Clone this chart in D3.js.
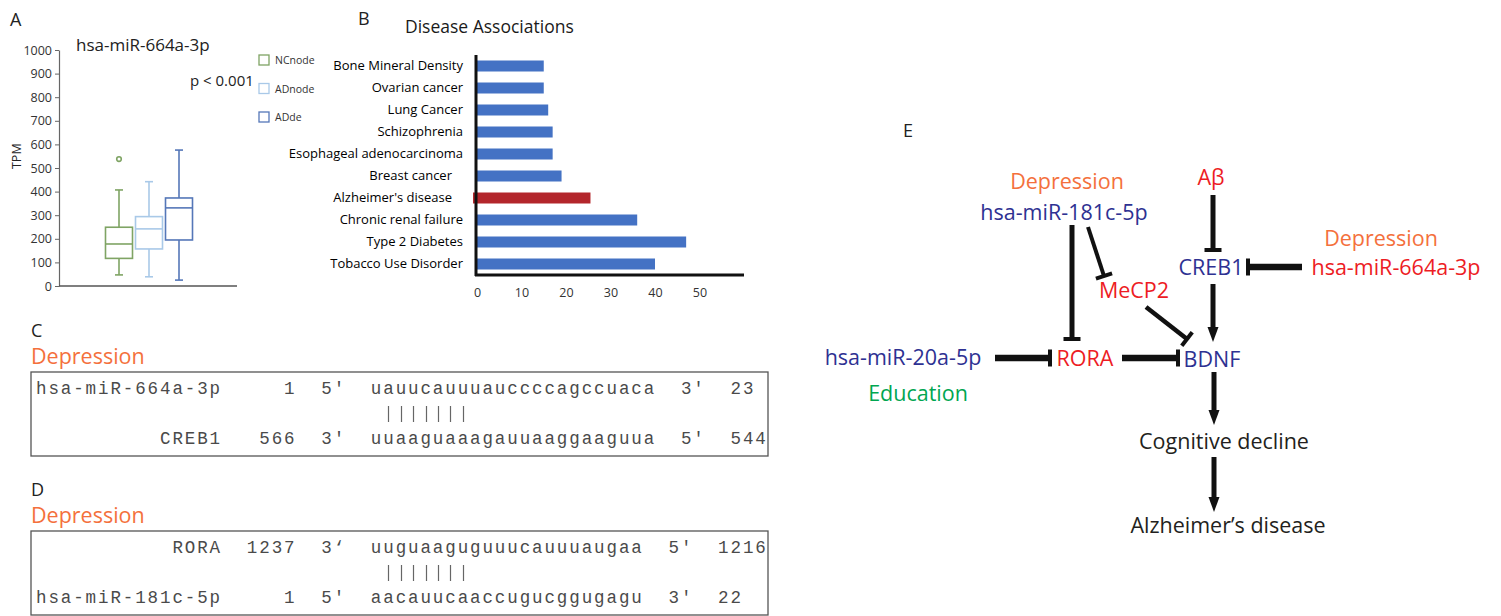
<!DOCTYPE html>
<html>
<head>
<meta charset="utf-8">
<script src="https://cdn.jsdelivr.net/npm/d3@7"></script>
<style>
  body { margin: 0; background: #fff; }
  svg { display: block; font-family: "Open Sans", sans-serif; }
</style>
</head>
<body>
<div id="fig"></div>
<script>
// ---------- panel A: boxplot ----------
const groups = ["NCnode", "ADnode", "ADde"];
const boxStats = [
    { min: 47, q1: 117, median: 178, q3: 249, max: 407, outliers: [538] },
    { min: 39, q1: 157, median: 242, q3: 294, max: 442, outliers: [] },
    { min: 25, q1: 195, median: 331, q3: 373, max: 576, outliers: [] }
];
const tpmTicks = [0, 100, 200, 300, 400, 500, 600, 700, 800, 900, 1000];

// ---------- panel B: disease associations ----------
const diseases = [
    "Bone Mineral Density", "Ovarian cancer", "Lung Cancer", "Schizophrenia",
    "Esophageal adenocarcinoma", "Breast cancer", "Alzheimer's disease",
    "Chronic renal failure", "Type 2 Diabetes", "Tobacco Use Disorder"
];
const associations = [15, 15, 16, 17, 17, 19, 25.5, 36, 47, 40];
const countTicks = [0, 10, 20, 30, 40, 50];

// ---------- panels C, D: alignments ----------
const alignC = [
    ["hsa-miR-664a-3p", "1", "5'", "uauucauuuauccccagccuaca", "3'", "23"],
    ["CREB1", "566", "3'", "uuaaguaaagauuaaggaaguua", "5\u2032", "544"]
];
const alignD = [
    ["RORA", "1237", "3\u2018", "uuguaaguguuucauuuaugaa", "5'", "1216"],
    ["hsa-miR-181c-5p", "1", "5'", "aacauucaaccugucggugagu", "3\u2032", "22"]
];
// seed match: sequence positions 2..8
const seedPositions = [2, 3, 4, 5, 6, 7, 8];

// ---------- panel E: pathway ----------
const nodes = [
    { id: "dep1", label: "Depression" },
    { id: "mir181", label: "hsa-miR-181c-5p" },
    { id: "abeta", label: "A\u03b2" },
    { id: "creb1", label: "CREB1" },
    { id: "dep2", label: "Depression" },
    { id: "mir664", label: "hsa-miR-664a-3p" },
    { id: "mecp2", label: "MeCP2" },
    { id: "mir20", label: "hsa-miR-20a-5p" },
    { id: "rora", label: "RORA" },
    { id: "bdnf", label: "BDNF" },
    { id: "edu", label: "Education" },
    { id: "cog", label: "Cognitive decline" },
    { id: "ad", label: "Alzheimer\u2019s disease" }
];
const edges = [
    ["abeta", "creb1", "inhibit"],
    ["mir664", "creb1", "inhibit"],
    ["creb1", "bdnf", "activate"],
    ["mir181", "rora", "inhibit"],
    ["mir181", "mecp2", "inhibit"],
    ["mecp2", "bdnf", "inhibit"],
    ["mir20", "rora", "inhibit"],
    ["rora", "bdnf", "inhibit"],
    ["bdnf", "cog", "activate"],
    ["cog", "ad", "activate"]
];

// layout of the pathway (positions, not data)
const nodePos = {
    dep1: [1067, 181], mir181: [1064, 212], abeta: [1211, 177], creb1: [1211, 267],
    dep2: [1381, 238], mir664: [1396, 267], mecp2: [1134, 290], mir20: [903, 357],
    rora: [1085, 358], bdnf: [1212, 359], edu: [918, 393], cog: [1224, 441], ad: [1228, 525]
};
const nodeColor = {
    dep1: "#f4703c", dep2: "#f4703c", mir181: "#2e3192", abeta: "#ed1c24",
    creb1: "#2e3192", mir664: "#ed1c24", mecp2: "#ed1c24", mir20: "#2e3192",
    rora: "#ed1c24", bdnf: "#2e3192", edu: "#00a651", cog: "#231f20", ad: "#231f20"
};
const edgeGeom = {
    "abeta-creb1": [[1213, 195], [1213, 250], 5],
    "mir664-creb1": [[1302, 267], [1248, 267], 6.7],
    "creb1-bdnf": [[1213, 284], [1213, 342], 5],
    "mir181-rora": [[1072, 225], [1072, 339], 5],
    "mir181-mecp2": [[1088, 227], [1104, 276], 4],
    "mecp2-bdnf": [[1146, 307], [1187, 339], 4.5],
    "mir20-rora": [[995, 358], [1050, 358], 6.7],
    "rora-bdnf": [[1122, 358], [1178, 358], 6.7],
    "bdnf-cog": [[1214, 372], [1214, 425], 5],
    "cog-ad": [[1214, 457], [1214, 512], 5]
};

const W = 1501, H = 616;
const svg = d3.select("#fig").append("svg")
    .attr("width", W).attr("height", H)
    .attr("viewBox", `0 0 ${W} ${H}`);
svg.append("rect").attr("width", W).attr("height", H).attr("fill", "#fff");

const panelLabel = (x, y, t) => svg.append("text")
    .attr("x", x).attr("y", y).attr("font-size", 18).attr("fill", "#222").text(t);

// ===== A =====
panelLabel(10, 26, "A");
const yA = d3.scaleLinear().domain([0, 1000]).range([286, 50]);
const xA = d3.scaleBand().domain(groups).range([104, 194]).paddingInner(0.1).paddingOuter(0.05);
const boxColor = d3.scaleOrdinal().domain(groups).range(["#7fa464", "#a9c9e8", "#5577b8"]);

const gA = svg.append("g");
gA.append("g")
    .attr("transform", "translate(59,0)")
    .call(d3.axisLeft(yA).tickValues(tpmTicks).tickFormat(d3.format("d")).tickSize(4).tickSizeOuter(0).tickPadding(3))
    .call(g => {
        g.select(".domain").attr("stroke", "#666").attr("stroke-width", 1.2);
        g.selectAll(".tick line").attr("stroke", "#666");
        g.selectAll("text").attr("font-family", "Open Sans").attr("font-size", 12.5).attr("fill", "#333");
    });
gA.append("line")
    .attr("x1", 59).attr("x2", 237).attr("y1", yA(0)).attr("y2", yA(0))
    .attr("stroke", "#555").attr("stroke-width", 1.6);

gA.append("text")
    .attr("transform", `translate(21,${yA(550)}) rotate(-90)`)
    .attr("text-anchor", "middle").attr("font-size", 12.5).attr("fill", "#222")
    .text("TPM");
gA.append("text").attr("x", 76).attr("y", 51).attr("font-size", 17).attr("fill", "#222").text("hsa-miR-664a-3p");
gA.append("text").attr("x", 190).attr("y", 86).attr("font-size", 15).attr("fill", "#222").text("p < 0.001");

const boxes = gA.selectAll(".box").data(boxStats).join("g")
    .attr("class", "box")
    .attr("stroke", (d, i) => boxColor(groups[i]))
    .attr("fill", "none")
    .attr("stroke-width", 1.6);

boxes.each(function (d, i) {
    const g = d3.select(this);
    const x0 = xA(groups[i]);
    const w = xA.bandwidth();
    const cx = x0 + w / 2;
    g.append("line").attr("x1", cx).attr("x2", cx).attr("y1", yA(d.max)).attr("y2", yA(d.q3));
    g.append("line").attr("x1", cx).attr("x2", cx).attr("y1", yA(d.q1)).attr("y2", yA(d.min));
    g.append("line").attr("x1", cx - 4).attr("x2", cx + 4).attr("y1", yA(d.max)).attr("y2", yA(d.max));
    g.append("line").attr("x1", cx - 4).attr("x2", cx + 4).attr("y1", yA(d.min)).attr("y2", yA(d.min));
    g.append("rect").attr("x", x0).attr("y", yA(d.q3)).attr("width", w).attr("height", yA(d.q1) - yA(d.q3)).attr("fill", "#fff");
    g.append("line").attr("x1", x0).attr("x2", x0 + w).attr("y1", yA(d.median)).attr("y2", yA(d.median));
    g.selectAll("circle").data(d.outliers).join("circle")
        .attr("cx", cx).attr("cy", v => yA(v)).attr("r", 2.3);
});

const legend = gA.selectAll(".legend").data(groups).join("g")
    .attr("class", "legend")
    .attr("transform", (d, i) => `translate(259,${55 + i * 28.5})`);
legend.append("rect").attr("width", 10).attr("height", 10)
    .attr("fill", "none").attr("stroke", d => boxColor(d)).attr("stroke-width", 1.3);
legend.append("text").attr("x", 16).attr("y", 9).attr("font-size", 10.5).attr("fill", "#333").text(d => d);

// ===== B =====
panelLabel(358, 25, "B");
svg.append("text").attr("x", 405).attr("y", 33).attr("font-size", 17.5)
    .attr("fill", "#1a1a1a").text("Disease Associations");

const yB = d3.scaleBand().domain(diseases).range([55, 275]).paddingInner(0.5).paddingOuter(0.25);
const xB = d3.scaleLinear().domain([0, 60]).range([477, 744]);
const gB = svg.append("g");

gB.selectAll(".bar").data(diseases).join("rect")
    .attr("class", "bar")
    .attr("x", d => d === "Alzheimer's disease" ? xB(0) - 4 : xB(0))
    .attr("y", d => yB(d))
    .attr("width", (d, i) => xB(associations[i]) - xB(0) + (d === "Alzheimer's disease" ? 4 : 0))
    .attr("height", yB.bandwidth())
    .attr("fill", d => d === "Alzheimer's disease" ? "#b3262b" : "#4472c4");

gB.append("line").attr("x1", 476).attr("x2", 476).attr("y1", 55).attr("y2", 276)
    .attr("stroke", "#111").attr("stroke-width", 3);
gB.append("line").attr("x1", 475).attr("x2", 744).attr("y1", 275).attr("y2", 275)
    .attr("stroke", "#111").attr("stroke-width", 3);

gB.append("g")
    .attr("transform", "translate(476,0)")
    .call(d3.axisLeft(yB).tickSize(0).tickPadding(13))
    .call(g => {
        g.select(".domain").remove();
        g.selectAll("text").attr("font-family", "Open Sans").attr("font-size", 13).attr("fill", "#000")
            .attr("dx", d => (d === "Breast cancer" || d === "Alzheimer's disease") ? -11 : 0);
    });
gB.append("g")
    .attr("transform", "translate(0,285)")
    .call(d3.axisBottom(xB).tickValues(countTicks).tickSize(0).tickPadding(3))
    .call(g => {
        g.select(".domain").remove();
        g.selectAll("text").attr("font-family", "Open Sans").attr("font-size", 12.5).attr("fill", "#333");
    });

// ===== C & D =====
const pitch = 12.4;
const monoSize = 17.5;
const seqStart = 27;
const rowText = r => r[0].padStart(15) + r[1].padStart(6) + "  " + r[2] + "  " + r[3] + "  " + r[4] + "  " + r[5];

const drawAlignment = (top, label, rows) => {
    panelLabel(31, top - 35, label);
    svg.append("text").attr("x", 31).attr("y", top - 8).attr("font-size", 21.5)
        .attr("fill", "#f4703c").text("Depression");
    svg.append("rect").attr("x", 31).attr("y", top).attr("width", 737).attr("height", 84)
        .attr("fill", "none").attr("stroke", "#555").attr("stroke-width", 1.3);
    svg.append("g")
        .selectAll("text").data([rowText(rows[0]), rowText(rows[1])]).join("text")
        .attr("x", 36)
        .attr("y", (d, i) => top + 22 + i * 50)
        .attr("xml:space", "preserve")
        .style("white-space", "pre")
        .attr("font-family", "Liberation Mono, monospace")
        .attr("font-size", monoSize)
        .attr("letter-spacing", pitch - 0.6 * monoSize)
        .attr("fill", "#4a4a4a")
        .text(d => d);
    svg.append("g")
        .selectAll("line").data(seedPositions).join("line")
        .attr("x1", p => Math.round(36 + (seqStart + p - 1) * pitch + 0.3 * monoSize) + 0.5)
        .attr("x2", p => Math.round(36 + (seqStart + p - 1) * pitch + 0.3 * monoSize) + 0.5)
        .attr("y1", top + 34).attr("y2", top + 50)
        .attr("stroke", "#666").attr("stroke-width", 1.2);
};
drawAlignment(372, "C", alignC);
drawAlignment(531, "D", alignD);

// ===== E =====
panelLabel(903, 137, "E");
const gE = svg.append("g");

edges.forEach(([s, t, kind]) => {
    const [p1, p2, sw] = edgeGeom[`${s}-${t}`];
    const dx = p2[0] - p1[0], dy = p2[1] - p1[1];
    const len = Math.hypot(dx, dy);
    const ux = dx / len, uy = dy / len;
    const nx = -uy, ny = ux;
    if (kind === "inhibit") {
        gE.append("line")
            .attr("x1", p1[0]).attr("y1", p1[1]).attr("x2", p2[0]).attr("y2", p2[1])
            .attr("stroke", "#111").attr("stroke-width", sw);
        gE.append("line")
            .attr("x1", p2[0] + nx * 8.5).attr("y1", p2[1] + ny * 8.5)
            .attr("x2", p2[0] - nx * 8.5).attr("y2", p2[1] - ny * 8.5)
            .attr("stroke", "#111").attr("stroke-width", 4);
    } else {
        const head = 15;
        gE.append("line")
            .attr("x1", p1[0]).attr("y1", p1[1])
            .attr("x2", p2[0] - ux * (head - 2)).attr("y2", p2[1] - uy * (head - 2))
            .attr("stroke", "#111").attr("stroke-width", sw);
        const bx = p2[0] - ux * head, by = p2[1] - uy * head;
        gE.append("path")
            .attr("d", `M${p2[0]},${p2[1]}L${bx + nx * 5.5},${by + ny * 5.5}L${bx - nx * 5.5},${by - ny * 5.5}Z`)
            .attr("fill", "#111");
    }
});

gE.selectAll(".node").data(nodes).join("text")
    .attr("class", "node")
    .attr("x", d => nodePos[d.id][0])
    .attr("y", d => nodePos[d.id][1])
    .attr("dy", "0.36em")
    .attr("text-anchor", "middle")
    .attr("font-size", 21.5)
    .attr("fill", d => nodeColor[d.id])
    .text(d => d.label);
</script>
</body>
</html>
